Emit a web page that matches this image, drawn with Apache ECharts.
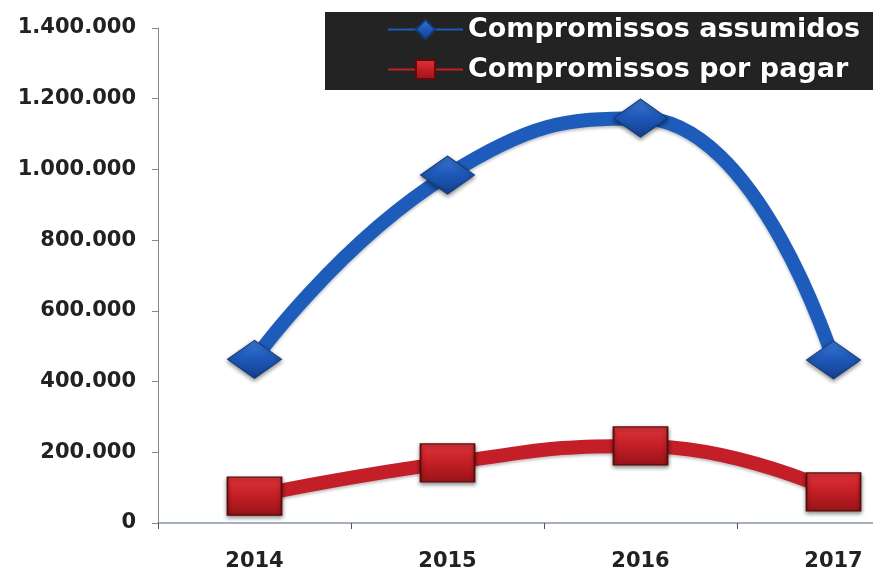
<!DOCTYPE html>
<html>
<head>
<meta charset="utf-8">
<script src="https://cdn.jsdelivr.net/npm/echarts@6/dist/echarts.min.js"></script>
<style>html,body{margin:0;padding:0;background:#fff}#c{width:873px;height:578px}</style>
</head>
<body>
<div id="c"></div>
<script>
const years = ['2014', '2015', '2016', '2017'];
const assumidos = [463000, 984000, 1145000, 461000];
const porPagar = [76000, 170000, 218000, 88000];
const seriesNames = ['Compromissos assumidos', 'Compromissos por pagar'];
const yTicks = {min: 0, max: 1400000, interval: 200000};

function fmt(v) {
  return String(v).replace(/\B(?=(\d{3})+(?!\d))/g, '.');
}

const chart = echarts.init(document.getElementById('c'));
chart.setOption({
  animation: false,
  backgroundColor: '#ffffff',
  grid: {left: 158, top: 28, height: 495, width: 772, outerBoundsMode: 'none', containLabel: false},
  legend: {
    orient: 'vertical',
    left: 325,
    top: 12,
    backgroundColor: '#232323',
    padding: [4, 40, 7, 62],
    itemGap: 13,
    itemWidth: 75,
    itemHeight: 24,
    textStyle: {color: '#ffffff', fontFamily: 'DejaVu Sans', fontWeight: 'bold', fontSize: 27, textShadowColor: 'rgba(0,0,0,0.6)', textShadowBlur: 2},
    data: seriesNames
  },
  xAxis: {
    type: 'category',
    data: years,
    boundaryGap: true,
    axisLine: {lineStyle: {color: '#8796ab', width: 1.5}},
    axisTick: {show: true, length: 6, lineStyle: {color: '#555'}},
    axisLabel: {color: '#222', fontFamily: 'DejaVu Sans', fontWeight: 'bold', fontSize: 21, margin: 28}
  },
  yAxis: {
    type: 'value',
    min: yTicks.min, max: yTicks.max, interval: yTicks.interval,
    splitLine: {show: false},
    axisLine: {show: true, lineStyle: {color: '#888', width: 1}},
    axisTick: {show: true, length: 6, lineStyle: {color: '#888'}},
    axisLabel: {color: '#222', fontFamily: 'DejaVu Sans', fontWeight: 'bold', fontSize: 21, margin: 22, formatter: fmt}
  },
  series: [
    {
      name: seriesNames[0],
      type: 'line',
      data: assumidos,
      smooth: 0.5,
      symbol: 'diamond',
      symbolSize: [54, 38],
      lineStyle: {color: '#1d5cba', width: 14, shadowColor: 'rgba(0,0,0,0.25)', shadowBlur: 3, shadowOffsetY: 2},
      itemStyle: {
        color: new echarts.graphic.LinearGradient(0, 0, 0, 1, [{offset: 0, color: '#3a78d6'}, {offset: 0.5, color: '#1d58b8'}, {offset: 1, color: '#143f8a'}]),
        borderColor: '#123a7a', borderWidth: 1,
        shadowColor: 'rgba(0,0,0,0.45)', shadowBlur: 4, shadowOffsetY: 2
      },
      z: 3
    },
    {
      name: seriesNames[1],
      type: 'line',
      data: porPagar,
      smooth: 0.5,
      symbol: 'rect',
      symbolSize: [54, 38],
      lineStyle: {color: '#c41e28', width: 14, shadowColor: 'rgba(0,0,0,0.25)', shadowBlur: 3, shadowOffsetY: 2},
      itemStyle: {
        color: new echarts.graphic.LinearGradient(0, 0, 0, 1, [{offset: 0, color: '#e0343a'}, {offset: 0.5, color: '#c41e26'}, {offset: 1, color: '#961418'}]),
        borderColor: '#5a0c0c', borderWidth: 1.5,
        shadowColor: 'rgba(0,0,0,0.45)', shadowBlur: 4, shadowOffsetY: 2
      },
      z: 3
    }
  ]
});
</script>
</body>
</html>
